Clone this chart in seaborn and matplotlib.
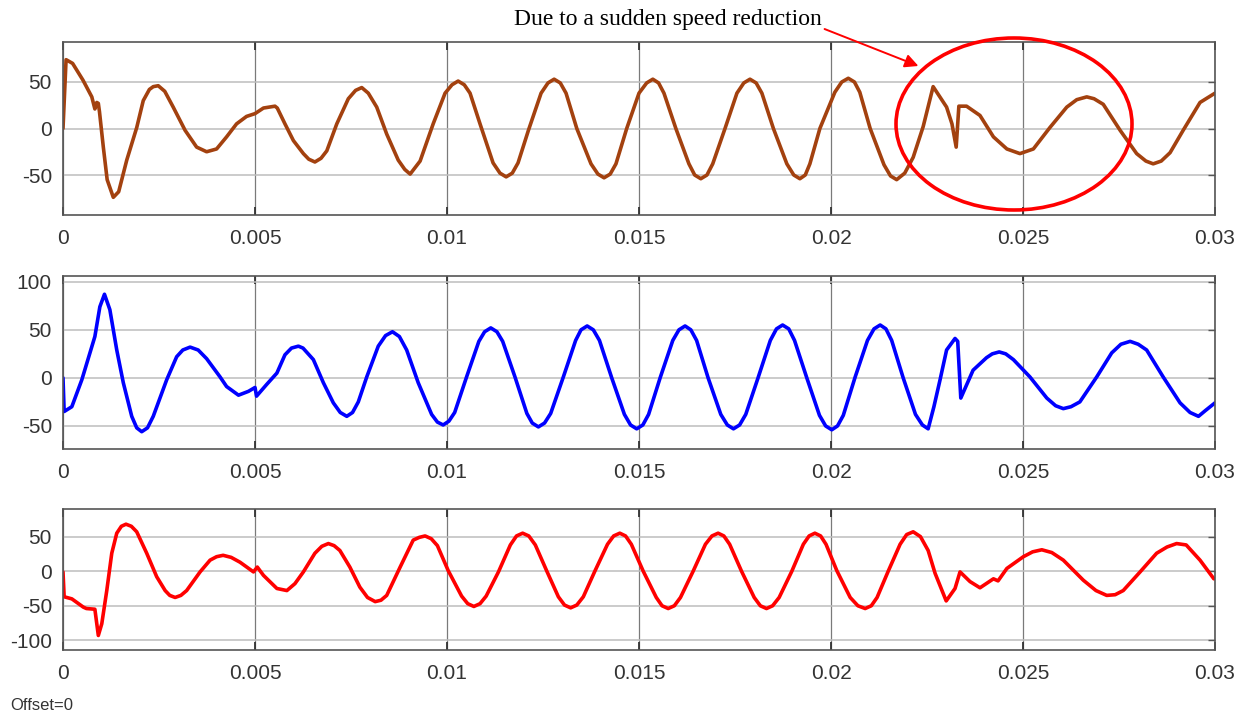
import numpy as np
import pandas as pd
import matplotlib
matplotlib.use("Agg")
import matplotlib.pyplot as plt
from matplotlib.patches import Ellipse, FancyArrowPatch
import seaborn as sns

# ---- data (time in ms, value) ----
t_a = [0, 0.08, 0.25, 0.52, 0.75, 0.83, 0.88, 0.92, 0.95, 1.05, 1.15, 1.31, 1.45, 1.66, 1.92, 2.09, 2.25, 2.35, 2.48,
       2.65, 2.87, 3.18, 3.48, 3.74, 4.0, 4.26, 4.52, 4.78, 5.0, 5.22, 5.52, 5.58, 5.78, 6.0, 6.26, 6.4, 6.56, 6.72, 6.87,
       7.13, 7.43, 7.62, 7.78, 7.95, 8.17, 8.43, 8.73, 8.9, 9.04, 9.3, 9.64, 9.95, 10.13, 10.29, 10.45, 10.6, 10.86,
       11.2, 11.38, 11.54, 11.7, 11.85, 12.12, 12.45, 12.63, 12.79, 12.95, 13.1, 13.38, 13.75, 13.93, 14.09, 14.25,
       14.4, 14.68, 15.0, 15.2, 15.36, 15.51, 15.65, 15.96, 16.3, 16.45, 16.61, 16.77, 16.92, 17.24, 17.55, 17.73,
       17.89, 18.05, 18.2, 18.5, 18.85, 19.03, 19.19, 19.33, 19.45, 19.71, 20.1, 20.28, 20.45, 20.61, 20.75, 21.02,
       21.38, 21.55, 21.71, 21.92, 22.14, 22.4, 22.66, 22.85, 23.01, 23.15, 23.26, 23.33, 23.53, 23.88, 24.23, 24.58,
       24.92, 25.27, 25.7, 26.14, 26.4, 26.66, 26.85, 27.09, 27.53, 27.96, 28.2, 28.39, 28.6, 28.83, 29.17, 29.61, 30.0]
y_a = [0, 74, 70, 52, 34, 21, 28, 27, 18, -20, -55, -74, -68, -34, 1, 30, 42, 45, 46,
       40, 23, -2, -20, -25, -22, -9, 5, 13, 16, 22, 24, 22, 5, -13, -27, -33, -36, -32, -24,
       5, 32, 41, 44, 38, 23, -6, -34, -44, -49, -35, 5, 38, 47, 51, 47, 38, 5,
       -37, -48, -52, -48, -37, -2, 38, 49, 53, 49, 38, 0, -38, -49, -53, -49,
       -38, 0, 38, 49, 53, 49, 38, 0, -38, -50, -54, -50, -38, 0, 38, 49,
       53, 49, 38, 0, -38, -50, -54, -50, -38, 0, 39, 50, 54, 50, 39, 0,
       -39, -51, -55, -48, -31, 2, 45, 33, 23, 5, -20, 24, 24, 14, -9, -22,
       -27, -22, 1, 23, 31, 34, 32, 26, -2, -27, -35, -38, -35, -26, -2, 28, 38]

t_b = [0, 0.03, 0.23, 0.49, 0.83, 0.96, 1.08, 1.22, 1.4, 1.57, 1.79, 1.92, 2.05, 2.2, 2.35, 2.7, 2.96, 3.12, 3.31,
       3.52, 3.74, 4.09, 4.26, 4.57, 4.83, 5.0, 5.04, 5.3, 5.57, 5.78, 5.95, 6.13, 6.25, 6.52, 6.78, 7.04, 7.22,
       7.39, 7.54, 7.69, 7.91, 8.21, 8.4, 8.58, 8.76, 8.95, 9.25, 9.6, 9.75, 9.9, 10.05, 10.2, 10.51, 10.83, 10.98,
       11.14, 11.3, 11.45, 11.77, 12.08, 12.22, 12.38, 12.54, 12.7, 13.03, 13.35, 13.49, 13.65, 13.81, 13.97,
       14.29, 14.62, 14.78, 14.94, 15.1, 15.25, 15.55, 15.88, 16.04, 16.2, 16.35, 16.5, 16.8, 17.13, 17.3, 17.46,
       17.62, 17.78, 18.1, 18.42, 18.58, 18.74, 18.9, 19.05, 19.37, 19.7, 19.86, 20.02, 20.17, 20.32, 20.63,
       20.95, 21.12, 21.28, 21.43, 21.58, 21.88, 22.2, 22.38, 22.53, 22.68, 22.84, 23.01, 23.23, 23.3, 23.38,
       23.7, 24.05, 24.2, 24.38, 24.55, 24.75, 25.18, 25.62, 25.85, 26.05, 26.25, 26.48, 26.92, 27.31, 27.55,
       27.79, 28.0, 28.22, 28.65, 29.09, 29.35, 29.57, 29.75, 30.0]
y_b = [0, -35, -30, -2, 43, 74, 87, 71, 29, -5, -40, -52, -56, -52, -40, -2, 22, 29, 32,
       29, 20, 1, -9, -18, -14, -10, -19, -7, 5, 24, 31, 33, 31, 19, -5, -26, -36,
       -40, -36, -25, 1, 33, 44, 48, 43, 29, -5, -38, -46, -49, -45, -36, 1, 38, 48,
       52, 48, 38, 1, -37, -47, -51, -47, -37, 1, 39, 50, 54, 50, 39,
       0, -38, -49, -53, -49, -38, 0, 39, 50, 54, 50, 39, 0, -38, -49, -53,
       -49, -38, 0, 39, 51, 55, 51, 39, 0, -39, -50, -54, -50, -39, 1,
       39, 51, 55, 51, 39, 0, -38, -49, -53, -30, -2, 29, 41, 38, -21,
       8, 21, 25, 27, 25, 19, 1, -21, -29, -32, -30, -25, 1, 26, 35,
       38, 35, 29, 1, -26, -36, -40, -34, -26]

t_c = [0, 0.03, 0.23, 0.53, 0.61, 0.83, 0.92, 1.01, 1.14, 1.27, 1.4, 1.52, 1.64, 1.78, 1.92, 2.18, 2.44, 2.66, 2.78,
       2.92, 3.07, 3.22, 3.57, 3.83, 4.0, 4.17, 4.38, 4.61, 4.96, 5.06, 5.22, 5.57, 5.83, 6.04, 6.26, 6.56, 6.74,
       6.91, 7.06, 7.21, 7.47, 7.73, 7.93, 8.13, 8.28, 8.43, 8.78, 9.12, 9.28, 9.43, 9.59, 9.75, 10.03, 10.38,
       10.54, 10.7, 10.86, 11.02, 11.34, 11.65, 11.81, 11.97, 12.13, 12.3, 12.6, 12.9, 13.06, 13.22, 13.38, 13.55,
       13.85, 14.18, 14.34, 14.5, 14.65, 14.8, 15.11, 15.45, 15.6, 15.76, 15.92, 16.08, 16.41, 16.73, 16.9, 17.06,
       17.21, 17.36, 17.67, 18.0, 18.16, 18.32, 18.48, 18.65, 18.98, 19.28, 19.43, 19.58, 19.73, 19.87, 20.15,
       20.5, 20.7, 20.89, 21.05, 21.2, 21.49, 21.8, 21.97, 22.14, 22.33, 22.53, 22.71, 23.0, 23.23, 23.36, 23.62,
       23.88, 24.23, 24.35, 24.58, 25.01, 25.25, 25.49, 25.75, 26.05, 26.57, 26.9, 27.18, 27.4, 27.61, 28.05,
       28.48, 28.75, 29.0, 29.25, 29.61, 29.97]
y_c = [-1, -37, -40, -52, -54, -55, -93, -76, -28, 26, 55, 65, 68, 65, 57, 26, -8, -28, -35,
       -38, -35, -28, -1, 16, 21, 23, 20, 13, -1, 6, -6, -25, -28, -18, -1, 26, 36,
       40, 37, 30, 6, -23, -38, -44, -42, -35, 6, 45, 49, 51, 47, 37, 1, -36,
       -47, -51, -47, -36, -1, 38, 51, 55, 51, 38, 0, -37, -49, -53, -49, -37,
       0, 39, 51, 55, 51, 39, 0, -38, -50, -54, -50, -38, 0, 39, 51, 55,
       51, 39, 0, -38, -50, -54, -50, -38, 0, 39, 51, 55, 51, 39, 1,
       -38, -50, -54, -50, -38, 0, 39, 53, 57, 50, 30, -3, -43, -25, -1, -15,
       -24, -11, -14, 4, 21, 28, 31, 27, 16, -13, -28, -35, -34, -28, -1,
       26, 35, 40, 38, 16, -11]

x_ticks = [0, 0.005, 0.01, 0.015, 0.02, 0.025, 0.03]
x_tick_labels = ["0", "0.005", "0.01", "0.015", "0.02", "0.025", "0.03"]
y_ticks_a = [-50, 0, 50]
y_ticks_b = [-50, 0, 50, 100]
y_ticks_c = [-100, -50, 0, 50]

sns.set_theme(style="white")
plt.rcParams['font.family'] = ['Liberation Sans', 'DejaVu Sans']

fig = plt.figure(figsize=(12.49, 7.2), dpi=100)
W, H = 1249, 720

def ax_rect(top, bottom, left=63, right=1215):
    return [left / W, 1 - bottom / H, (right - left) / W, (bottom - top) / H]

panels = [
    (ax_rect(42, 215), t_a, y_a, "#A3410F", (-93, 93), y_ticks_a),
    (ax_rect(276, 449), t_b, y_b, "#0000FF", (-74, 106), y_ticks_b),
    (ax_rect(509, 650), t_c, y_c, "#FF0000", (-114, 90), y_ticks_c),
]

for rect, tt, yy, col, ylim, yt in panels:
    ax = fig.add_axes(rect)
    df = pd.DataFrame({"t": np.array(tt) / 1000.0, "v": yy})
    sns.lineplot(data=df, x="t", y="v", ax=ax, color=col, linewidth=2.6, sort=False)
    ax.set_xlim(0, 0.03)
    ax.set_ylim(*ylim)
    ax.set_xticks(x_ticks)
    ax.set_xticklabels(x_tick_labels)
    ax.set_yticks(yt)
    ax.set_yticklabels([str(v) for v in yt])
    ax.set_xlabel("")
    ax.set_ylabel("")
    ax.xaxis.grid(True, color="#7a7a7a", linewidth=0.9)
    ax.yaxis.grid(True, color="#bdbdbd", linewidth=1.1)
    ax.set_axisbelow(True)
    for s in ax.spines.values():
        s.set_color("#555555")
        s.set_linewidth(1.2)
    ax.tick_params(axis="x", direction="in", length=6, width=1.3, color="#333333",
                   top=True, bottom=True, pad=10, labelsize=15, labelcolor="#333333")
    ax.tick_params(axis="y", direction="in", length=5, width=1.0, color="#555555",
                   left=False, right=True, pad=8, labelsize=15, labelcolor="#333333")
    ax.yaxis.set_tick_params(which="both", labelleft=True)

fig.text(822 / W, 1 - 19 / H, "Due to a sudden speed reduction", ha="right", va="center",
         fontsize=17, family=["Liberation Serif", "DejaVu Serif"], color="black")
fig.add_artist(FancyArrowPatch(
    (822 / W, 1 - 28 / H), (921 / W, 1 - 67 / H), transform=fig.transFigure,
    arrowstyle="-|>,head_length=8,head_width=4", color="#FF0000", linewidth=1.4))
fig.add_artist(Ellipse((1014 / W, 1 - 124 / H), 236 / W, 172 / H, transform=fig.transFigure,
                       fill=False, edgecolor="#FF0000", linewidth=2.6))
fig.text(10 / W, 1 - 706 / H, "Offset=0", ha="left", va="center", fontsize=12, color="#333333")

fig.savefig("out.png", dpi=100)
